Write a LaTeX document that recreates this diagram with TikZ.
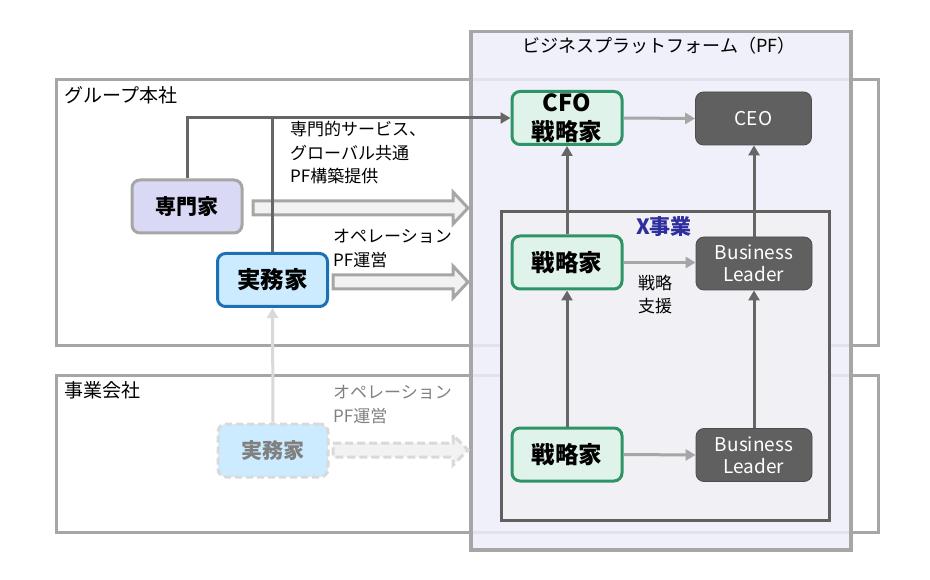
\documentclass[tikz,border=0pt]{standalone}
\usepackage{fontspec}
\setmainfont{Noto Sans CJK JP}
\usetikzlibrary{arrows.meta}
\definecolor{boxgray}{HTML}{A6A6A6}
\definecolor{dkline}{HTML}{666666}
\definecolor{ltline}{HTML}{A6A6A6}
\definecolor{faint}{HTML}{D9D9D9}
\definecolor{pffill}{HTML}{EDEDF9}
\definecolor{xfill}{HTML}{F0F0F5}
\definecolor{xborder}{HTML}{606060}
\definecolor{xtext}{HTML}{2E2E9E}
\definecolor{spfill}{HTML}{D9D9F5}
\definecolor{jmfill}{HTML}{CCEBFF}
\definecolor{jmborder}{HTML}{1F6FB5}
\definecolor{sgfill}{HTML}{DFF3EA}
\definecolor{sgborder}{HTML}{2E9467}
\definecolor{ceofill}{HTML}{606060}
\definecolor{blkfill}{HTML}{F2F2F2}
\definecolor{graytext}{HTML}{808080}
\begin{document}
\begin{tikzpicture}[x=1pt,y=-1pt,
  grpbox/.style={draw=boxgray,line width=3pt,minimum height=#1,anchor=north west,inner sep=0pt},
  lbl/.style={font=\fontsize{17}{23.5}\selectfont,inner sep=0pt,align=left},
  nodebox/.style={rounded corners=8pt,minimum width=110pt,minimum height=53pt,line width=3pt,inner sep=0pt,align=center},
  spbox/.style={nodebox,draw=boxgray,fill=spfill,font=\fontsize{21}{24}\selectfont\bfseries},
  jmbox/.style={nodebox,draw=jmborder,fill=jmfill,font=\fontsize{23.5}{26}\selectfont\bfseries},
  jmsub/.style={nodebox,draw=faint,fill=jmfill,dash pattern=on 7pt off 4pt,text=graytext,font=\fontsize{21}{24}\selectfont\bfseries},
  sgbox/.style={nodebox,draw=sgborder,fill=sgfill,font=\fontsize{23.5}{29}\selectfont\bfseries},
  leadbox/.style={nodebox,minimum width=116pt,draw=black!70,line width=0.8pt,fill=ceofill,text=white,font=\fontsize{19}{22}\selectfont},
  dkarrow/.style={draw=dkline,line width=3pt,-{Triangle[length=10pt,width=11pt]}},
  ltarrow/.style={draw=ltline,line width=3pt,-{Triangle[length=10pt,width=11pt]}},
  faintarrow/.style={draw=faint,line width=3pt,-{Triangle[length=10pt,width=11pt]}},
  blk/.style={draw=boxgray,fill=blkfill,line width=3pt,line join=miter},
  blkdash/.style={draw=faint,fill=blkfill,line width=3pt,dash pattern=on 8pt off 4pt}
]
\useasboundingbox (0,0) rectangle (930,580);

% company boxes
\node[grpbox=266pt,minimum width=822pt] (hq) at (55,78) {};
\node[grpbox=157pt,minimum width=822pt] (sub) at (55,374) {};
\node[lbl,font=\fontsize{19}{20}\selectfont,anchor=west] (hqlabel) at (64,95) {グループ本社};
\node[lbl,font=\fontsize{19}{20}\selectfont,anchor=west] (sublabel) at (64,390) {事業会社};

% platform box
\node[draw=boxgray,line width=3.5pt,fill=pffill,fill opacity=0.85,minimum width=380pt,minimum height=518pt,anchor=north west,inner sep=0pt] (pf) at (469,30) {};
\node[font=\fontsize{18}{20}\selectfont,inner sep=0pt] (pftitle) at (659,46) {ビジネスプラットフォーム（PF）};

% X business box
\node[draw=xborder,line width=3pt,fill=xfill,minimum width=328pt,minimum height=309pt,anchor=north west,inner sep=0pt] (xbiz) at (500,210) {};
\node[font=\fontsize{21}{22}\selectfont\bfseries,text=xtext,inner sep=0pt] (xlabel) at (664,227) {X事業};

% nodes
\node[spbox] (sp) at (187,206.5) {専門家};
\node[jmbox] (jm) at (272.5,280) {実務家};
\node[jmsub] (jms) at (273,450.5) {実務家};
\node[sgbox] (cfo) at (567,118) {CFO\\戦略家};
\node[leadbox] (ceo) at (753.5,118.5) {CEO};
\node[sgbox] (sg1) at (567,262.5) {戦略家};
\node[leadbox] (bl1) at (754,263.5) {Business\\Leader};
\node[sgbox] (sg2) at (567,454.5) {戦略家};
\node[leadbox] (bl2) at (754,455) {Business\\Leader};

% labels
\node[lbl,anchor=north west] (svc) at (290,121) {専門的サービス、\\グローバル共通\\PF構築提供};
\node[lbl,anchor=north west] (ops) at (333,229) {オペレーション\\PF運営};
\node[lbl,anchor=north west,text=graytext] (opss) at (333,385) {オペレーション\\PF運営};
\node[lbl,align=center] (support) at (655,294.5) {戦略\\支援};

% block arrows
\draw[blk] (253,201) -- (453,201) -- (453,192) -- (468,208) -- (453,224) -- (453,215) -- (253,215) -- cycle;
\draw[blk] (333,275) -- (453,275) -- (453,266) -- (468,282) -- (453,298) -- (453,289) -- (333,289) -- cycle;
\draw[blkdash] (333,443) -- (453,443) -- (453,435) -- (468,450) -- (453,465) -- (453,457) -- (333,457) -- cycle;

% connectors
\draw[dkarrow] (sp.north) |- (cfo.west);
\draw[draw=dkline,line width=3pt] (jm.north) -- (jm.north |- cfo.west);
\draw[faintarrow] (jms.north) -- (jm.south);
\draw[ltarrow] (cfo.east) -- (ceo.west);
\draw[dkarrow] (sg1.north) -- (cfo.south);
\draw[dkarrow] (bl1.north) -- (bl1.north |- ceo.south);
\draw[ltarrow] (sg1.east) -- (sg1.east -| bl1.west);
\draw[dkarrow] (sg2.north) -- (sg1.south);
\draw[dkarrow] (bl2.north) -- (bl1.south);
\draw[ltarrow] (sg2.east) -- (bl2.west);
\end{tikzpicture}
\end{document}
